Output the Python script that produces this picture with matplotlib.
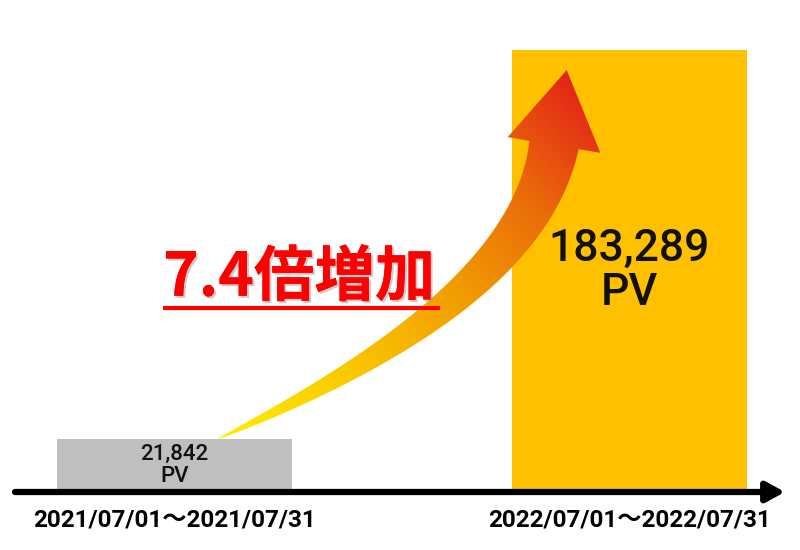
import numpy as np
import matplotlib
matplotlib.use('Agg')
import matplotlib.pyplot as plt
import matplotlib.patheffects as pe
from matplotlib.patches import Polygon
from matplotlib.colors import LinearSegmentedColormap

plt.rcParams['font.family'] = ['Roboto', 'Noto Sans CJK JP', 'DejaVu Sans']

# Dati
periods = ['2021/07/01〜2021/07/31', '2022/07/01〜2022/07/31']
pv = [21842, 183289]
bar_colors = ['#bfbfbf', '#ffc000']
growth_label = '7.4倍増加'

fig = plt.figure(figsize=(8, 5.5), dpi=100)

# Asse principale (barre)
ax = fig.add_axes([15 / 800, 58 / 550, 770 / 800, 452 / 550])
x = np.arange(len(pv))
ax.bar(x, pv, width=0.517, color=bar_colors, zorder=1)
ax.set_xlim(-0.351, 1.343)
ax.set_ylim(0, pv[1] * 452 / 442)
for s in ax.spines.values():
    s.set_visible(False)
ax.set_yticks([])
ax.set_xticks(x)
ax.set_xticklabels(periods, fontsize=17.5, fontweight='bold')
ax.tick_params(axis='x', length=0, pad=12)

# etichette dentro le barre
sizes = [16, 32]
for xi, v, fs in zip(x, pv, sizes):
    ax.text(xi, v / 2, f'{v:,}\nPV', ha='center', va='center', fontweight='medium',
            fontsize=fs, color='#111111', linespacing=1.05, zorder=3)

# asse orizzontale con freccia
ax.annotate('', xy=(1, 0), xytext=(0, 0), xycoords='axes fraction',
            arrowprops=dict(arrowstyle='-|>,head_length=0.55,head_width=0.3',
                            lw=4.5, color='black', mutation_scale=20,
                            shrinkA=0, shrinkB=0), zorder=4)

# Overlay in pixel per la freccia curva e il testo
ov = fig.add_axes([0, 0, 1, 1], zorder=5)
ov.set_xlim(0, 800)
ov.set_ylim(550, 0)
ov.axis('off')
ov.patch.set_alpha(0)

# la coda della freccia parte dalla cima della barra grigia
tail_y = 550 - ax.transData.transform((0, pv[0]))[1]

# freccia curva (bezier cubica)
P0 = np.array([217, tail_y])
P1 = np.array([397, tail_y - 82])
P2 = np.array([534, 263])
P3 = np.array([554, 145])
t = np.linspace(0, 1, 80)[:, None]
c = (1 - t) ** 3 * P0 + 3 * (1 - t) ** 2 * t * P1 + 3 * (1 - t) * t ** 2 * P2 + t ** 3 * P3
d = 3 * (1 - t) ** 2 * (P1 - P0) + 6 * (1 - t) * t * (P2 - P1) + 3 * t ** 2 * (P3 - P2)
d = d / np.linalg.norm(d, axis=1, keepdims=True)
n = np.column_stack([-d[:, 1], d[:, 0]])
w = 50 * t ** 0.75 / 2
left = c + n * w
right = c - n * w
tend = d[-1]
nend = np.array([-tend[1], tend[0]])
head = [P3 + nend * 47, P3 + tend * 76, P3 - nend * 47]
if head[0][0] > head[2][0]:
    head = head[::-1]
if left[-1][0] < right[-1][0]:
    pts = np.vstack([left, head[0], head[1], head[2], right[::-1]])
else:
    pts = np.vstack([right, head[0], head[1], head[2], left[::-1]])
poly = Polygon(pts, closed=True, facecolor='none', edgecolor='none')
ov.add_patch(poly)

cmap = LinearSegmentedColormap.from_list(
    'grad', ['#ffee00', '#fbc900', '#f2a000', '#ea6a0a', '#e21a1a'])
gx, gy = np.meshgrid(np.linspace(200, 620, 300), np.linspace(60, 450, 300))
dirv = np.array([590 - 217, 70 - 428])
L = np.linalg.norm(dirv)
s = ((gx - 217) * dirv[0] + (gy - 428) * dirv[1]) / L ** 2
im = ov.imshow(np.clip(s, 0, 1), cmap=cmap, extent=(200, 620, 450, 60),
               origin='upper', aspect='auto', vmin=0, vmax=1)
im.set_clip_path(poly)
ov.set_xlim(0, 800)
ov.set_ylim(550, 0)

# testo "7.4倍増加"
ov.text(163, 278, growth_label, fontsize=43.5, fontweight='bold', color='#ff0000',
        family=['Noto Sans CJK JP', 'DejaVu Sans'], ha='left', va='center',
        path_effects=[pe.withSimplePatchShadow(offset=(1.5, -1.5), shadow_rgbFace='#999999', alpha=0.5),
                      pe.Normal()], zorder=6)
ov.plot([163, 440], [308, 308], color='#ff0000', lw=3, solid_capstyle='butt', zorder=6)

fig.savefig('out.png', dpi=100, facecolor='white')
